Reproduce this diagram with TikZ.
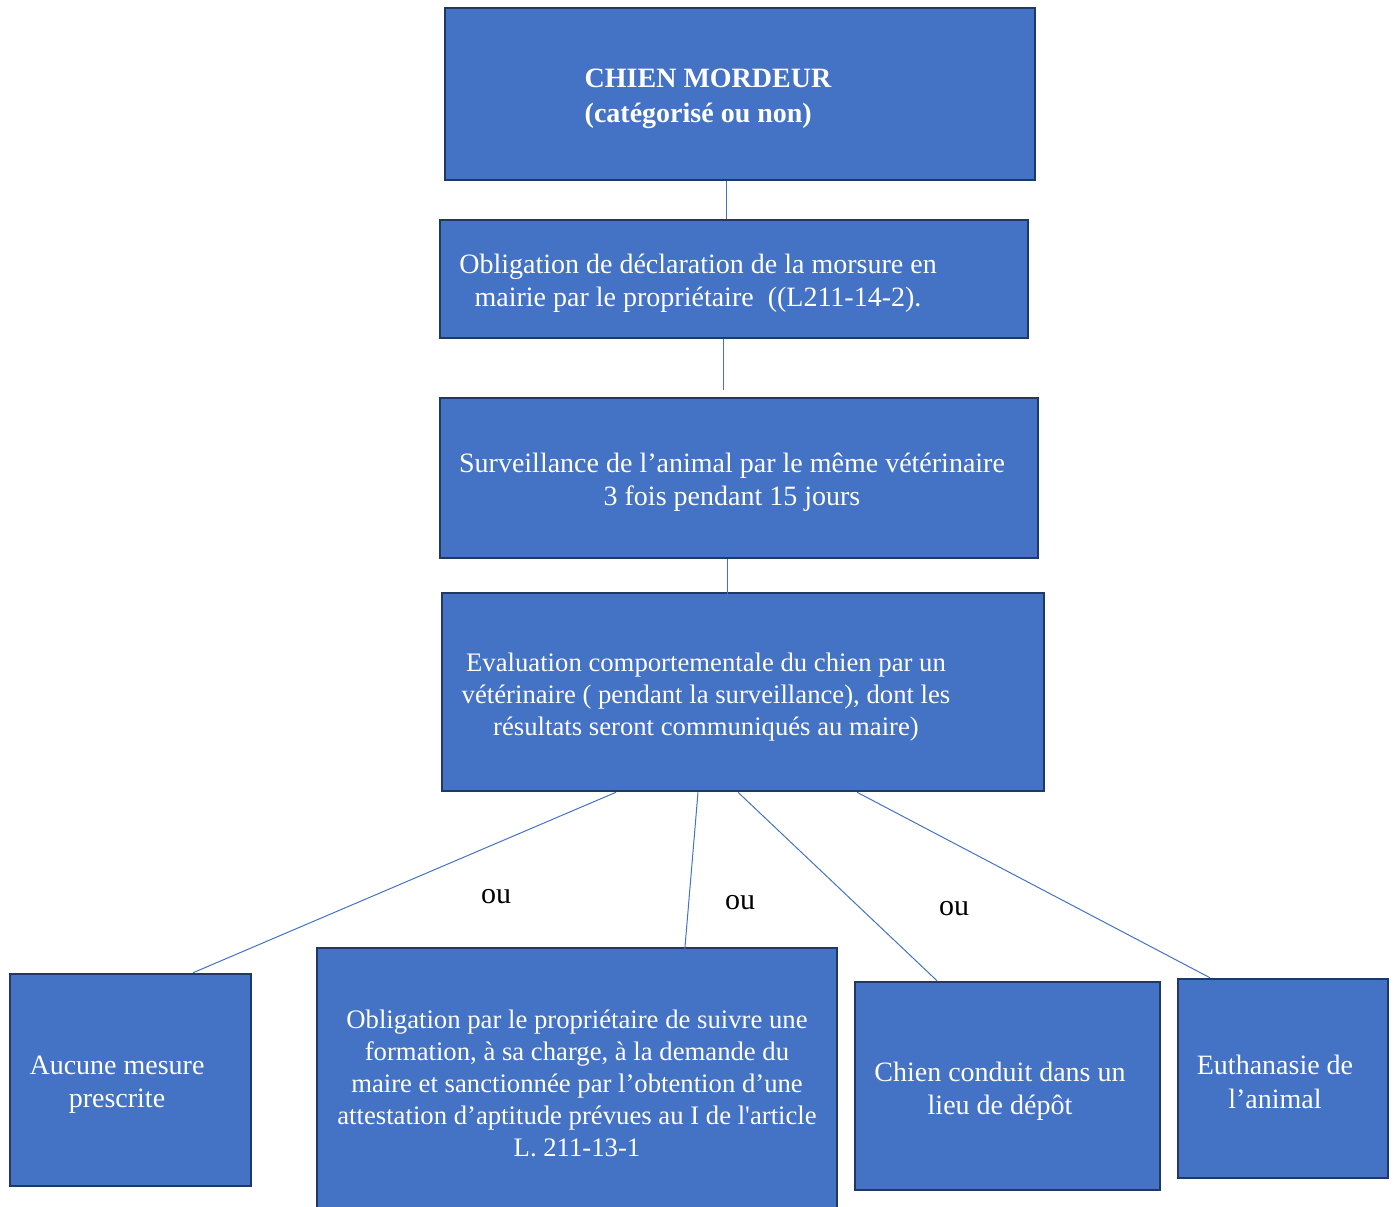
\documentclass[tikz,border=0pt]{standalone}
\usepackage{fontspec}
\setmainfont{Liberation Serif}[Ligatures=TeXOff]
\usetikzlibrary{positioning}
\definecolor{boxfill}{HTML}{4472C4}
\definecolor{boxline}{HTML}{203864}
\definecolor{linkcol}{HTML}{4472C4}

\begin{document}
\begin{tikzpicture}[x=1pt,y=-1pt,
  box/.style={rectangle,draw=boxline,line width=2.5pt,fill=boxfill,inner sep=0pt},
  txt/.style={text=white,align=center,inner sep=0pt,font=\fontsize{28}{33.3}\selectfont},
  small/.style={font=\fontsize{26.7}{32}\selectfont},
  link/.style={draw=linkcol,line width=1pt},
  ou/.style={inner sep=0pt,font=\fontsize{30}{36}\selectfont}]

  \useasboundingbox (0,0) rectangle (1395,1207);

  % boxes of the chain
  \node[box,minimum width=590,minimum height=172] (chien) at (740,94) {};
  \node[box,minimum width=588,minimum height=118] (decl) at (734,279) {};
  \node[box,minimum width=598,minimum height=160] (surv) at (739,478) {};
  \node[box,minimum width=602,minimum height=198] (eval) at (743,692) {};

  % the four outcomes
  \node[box,minimum width=241,minimum height=212] (aucune) at (130.5,1080) {};
  \node[box,minimum width=520,minimum height=267] (formation) at (577,1081.5) {};
  \node[box,minimum width=305,minimum height=208] (depot) at (1007.5,1086) {};
  \node[box,minimum width=210,minimum height=199] (euth) at (1283,1078.5) {};

  % texts
  \node[txt,align=left,font=\fontsize{28}{35}\selectfont\bfseries] (chientxt) at (708,99)
    {CHIEN MORDEUR\\(catégorisé ou non)};
  \node[txt] (decltxt) at (698,283)
    {Obligation de déclaration de la morsure en\\mairie par le propriétaire\ \ ((L211-14-2).};
  \node[txt] (survtxt) at (732,482)
    {Surveillance de l’animal par le même vétérinaire\\3 fois pendant 15 jours};
  \node[txt,small] (evaltxt) at (706,697)
    {Evaluation comportementale du chien par un\\vétérinaire ( pendant la surveillance), dont les\\résultats seront communiqués au maire)};
  \node[txt] (aucunetxt) at (117,1085) {Aucune mesure\\prescrite};
  \node[txt,small] (formationtxt) at (577,1083)
    {Obligation par le propriétaire de suivre une\\formation, à sa charge, à la demande du\\maire et sanctionnée par l’obtention d’une\\attestation d’aptitude prévues au I de l'article\\L. 211-13-1};
  \node[txt] (depottxt) at (1000,1091) {Chien conduit dans un\\lieu de dépôt};
  \node[txt] (euthtxt) at (1275,1082) {Euthanasie de\\l’animal};

  % ou
  \node[ou] (ou1) at (496,897) {ou};
  \node[ou] (ou2) at (740,903) {ou};
  \node[ou] (ou3) at (954,909) {ou};

  % links
  \draw[link] ([xshift=-14pt]chien.south) -- ([xshift=-8pt]decl.north);
  \draw[link] ([xshift=-11pt]decl.south) -- ([xshift=-16pt,yshift=7pt]surv.north);
  \draw[link] ([xshift=-12pt]surv.south) -- ([xshift=-16pt,yshift=-7pt]eval.north);
  \foreach \from/\to/\dx/\dy in {-127/aucune/62.5/0, -45/formation/107/-12,
                                 -5/depot/-70.5/0, 114/euth/-73/0}
    \draw[link] ([xshift=\from pt]eval.south) -- ([xshift=\dx pt,yshift=\dy pt]\to.north);
\end{tikzpicture}
\end{document}
